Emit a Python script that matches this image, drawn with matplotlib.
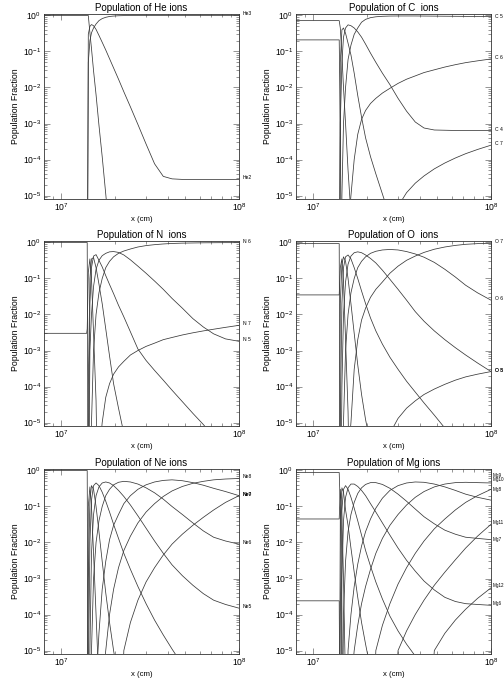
import math
import matplotlib
matplotlib.use("Agg")
import matplotlib.pyplot as plt
import matplotlib.ticker as mticker
import matplotlib.transforms as mtransforms

plt.rcParams['font.family'] = ['Liberation Sans', 'DejaVu Sans']
plt.rcParams['mathtext.default'] = 'regular'

Z = 1e-9  # "zero" (below the plotted range)

# common x grid (cm)
x_cm = [0.8e7, 1.39e7, 1.40e7, 1.42e7, 1.45e7, 1.48e7, 1.52e7, 1.57e7, 1.63e7, 1.70e7,
        1.78e7, 1.87e7, 1.97e7, 2.10e7, 2.25e7, 2.45e7, 2.70e7, 3.00e7, 3.35e7, 3.75e7,
        4.20e7, 4.80e7, 5.50e7, 6.30e7, 7.20e7, 8.40e7, 1.0e8]

# ---------------- He ----------------
he1 = [1, 1, 1, 1, 0.33, 0.12, 0.029, 6.3e-3, 9e-4, 1.2e-4, 1.1e-5, 8e-7, Z, Z, Z, Z, Z, Z, Z, Z, Z, Z, Z, Z, Z, Z, Z]
he2 = [Z, Z, Z, 0.3, 0.5, 0.56, 0.52, 0.41, 0.28, 0.18, 0.11, 0.063, 0.035, 0.017, 7.6e-3, 2.9e-3, 9.4e-4,
       2.7e-4, 7.6e-5, 3.4e-5, 2.9e-5, 2.8e-5, 2.8e-5, 2.8e-5, 2.8e-5, 2.8e-5, 2.8e-5]
he3 = [Z, Z, Z, 0.05, 0.2, 0.33, 0.45, 0.58, 0.72, 0.82, 0.89, 0.94, 0.965, 0.983, 0.992, 0.997, 1, 1, 1, 1, 1, 1, 1, 1, 1, 1, 1]

# ---------------- C ----------------
c1 = [0.21, 0.21, 0.21, 1e-3, Z, Z, Z, Z, Z, Z, Z, Z, Z, Z, Z, Z, Z, Z, Z, Z, Z, Z, Z, Z, Z, Z, Z]
c2 = [0.72, 0.72, 0.72, 0.45, 0.08, 0.01, 1e-3, 5e-5, 3e-6, Z, Z, Z, Z, Z, Z, Z, Z, Z, Z, Z, Z, Z, Z, Z, Z, Z, Z]
c3 = [Z, Z, Z, 0.05, 0.4, 0.45, 0.32, 0.17, 0.08, 0.025, 6e-3, 1.5e-3, 4e-4, 1.2e-4, 4e-5, 1.1e-5, 2.5e-6,
      Z, Z, Z, Z, Z, Z, Z, Z, Z, Z]
c4 = [Z, Z, Z, 1e-3, 0.05, 0.25, 0.45, 0.55, 0.52, 0.45, 0.35, 0.25, 0.16, 0.09, 0.05, 0.025, 0.012, 5e-3,
      2.2e-3, 1.1e-3, 7.5e-4, 6.6e-4, 6.5e-4, 6.4e-4, 6.4e-4, 6.4e-4, 6.4e-4]
c5 = [Z, Z, Z, Z, 1e-5, 1e-3, 0.01, 0.06, 0.15, 0.3, 0.45, 0.65, 0.78, 0.87, 0.92, 0.95, 0.965, 0.97, 0.97,
      0.97, 0.965, 0.96, 0.955, 0.95, 0.945, 0.94, 0.935]
c6 = [Z, Z, Z, Z, Z, Z, Z, 1e-6, 1e-5, 1e-4, 5e-4, 1.3e-3, 2.3e-3, 3.6e-3, 5e-3, 7e-3, 9.5e-3, 0.013, 0.017,
      0.021, 0.026, 0.031, 0.037, 0.043, 0.049, 0.055, 0.062]
c7 = [Z, Z, Z, Z, Z, Z, Z, Z, Z, Z, Z, Z, Z, Z, Z, Z, 1e-6, 5e-6, 1.2e-5, 2.2e-5, 3.5e-5, 5.5e-5, 8e-5,
      1.1e-4, 1.45e-4, 1.9e-4, 2.5e-4]

# ---------------- N ----------------
n1 = [1, 1, 1, Z, Z, Z, Z, Z, Z, Z, Z, Z, Z, Z, Z, Z, Z, Z, Z, Z, Z, Z, Z, Z, Z, Z, Z]
n2 = [3e-3, 3e-3, 4e-3, 0.15, 0.35, 0.1, 3e-3, 4e-5, Z, Z, Z, Z, Z, Z, Z, Z, Z, Z, Z, Z, Z, Z, Z, Z, Z, Z, Z]
n3 = [Z, Z, Z, 1e-4, 0.1, 0.35, 0.38, 0.2, 0.07, 0.02, 4e-3, 7e-4, 1.2e-4, 2.5e-5, 5e-6, Z, Z, Z, Z, Z, Z, Z,
      Z, Z, Z, Z, Z]
n4 = [Z, Z, Z, 1e-6, 0.02, 0.2, 0.42, 0.46, 0.32, 0.21, 0.12, 0.068, 0.038, 0.018, 8.6e-3, 3.3e-3, 1.1e-3,
      5.3e-4, 2.8e-4, 1.5e-4, 7.9e-5, 3.8e-5, 1.8e-5, 8.8e-6, 4e-6, 1.5e-6, Z]
n5 = [Z, Z, Z, Z, 1e-3, 0.01, 0.06, 0.18, 0.32, 0.43, 0.5, 0.55, 0.56, 0.53, 0.45, 0.33, 0.22, 0.14, 0.085,
      0.05, 0.028, 0.015, 7.7e-3, 4.5e-3, 2.9e-3, 2.1e-3, 1.8e-3]
n6 = [Z, Z, Z, Z, Z, 1e-5, 1e-3, 0.01, 0.04, 0.1, 0.2, 0.3, 0.4, 0.5, 0.58, 0.66, 0.75, 0.82, 0.87, 0.91,
      0.94, 0.96, 0.97, 0.98, 0.985, 0.99, 0.99]
n7 = [Z, Z, Z, Z, Z, Z, Z, Z, 1e-6, 1e-5, 5e-5, 1.2e-4, 2.2e-4, 3.5e-4, 5e-4, 7.5e-4, 1e-3, 1.3e-3, 1.6e-3,
      2e-3, 2.3e-3, 2.7e-3, 3.1e-3, 3.5e-3, 3.9e-3, 4.4e-3, 5e-3]

# ---------------- O ----------------
o1 = [0.93, 0.93, 0.93, Z, Z, Z, Z, Z, Z, Z, Z, Z, Z, Z, Z, Z, Z, Z, Z, Z, Z, Z, Z, Z, Z, Z, Z]
o2 = [0.035, 0.035, 0.035, 0.2, 0.35, 0.08, 2e-3, 2e-5, Z, Z, Z, Z, Z, Z, Z, Z, Z, Z, Z, Z, Z, Z, Z, Z, Z, Z, Z]
o3 = [Z, Z, Z, 0.02, 0.25, 0.4, 0.3, 0.1, 0.02, 3e-3, 4e-4, 6e-5, 1.2e-5, 2.5e-6, Z, Z, Z, Z, Z, Z, Z, Z, Z,
      Z, Z, Z, Z]
o4 = [Z, Z, Z, 1e-5, 0.02, 0.2, 0.4, 0.45, 0.35, 0.2, 0.1, 0.045, 0.02, 8e-3, 3.5e-3, 1.5e-3, 6.5e-4, 3e-4,
      1.4e-4, 7e-5, 3.5e-5, 1.6e-5, 7e-6, 3e-6, Z, Z, Z]
o5 = [Z, Z, Z, Z, 1e-4, 0.01, 0.08, 0.25, 0.42, 0.52, 0.55, 0.52, 0.45, 0.36, 0.27, 0.17, 0.095, 0.05, 0.025,
      0.012, 6.5e-3, 3.5e-3, 2e-3, 1.2e-3, 7.5e-4, 4.5e-4, 2.6e-4]
o6 = [Z, Z, Z, Z, Z, 1e-5, 1e-3, 0.01, 0.04, 0.1, 0.2, 0.3, 0.4, 0.5, 0.57, 0.62, 0.64, 0.62, 0.56, 0.48,
      0.39, 0.28, 0.18, 0.11, 0.065, 0.04, 0.025]
o7 = [Z, Z, Z, Z, Z, Z, Z, 1e-6, 1e-5, 3e-4, 2e-3, 7e-3, 0.015, 0.03, 0.05, 0.08, 0.14, 0.22, 0.32, 0.42,
      0.53, 0.65, 0.75, 0.83, 0.89, 0.93, 0.95]
o8 = [Z, Z, Z, Z, Z, Z, Z, Z, Z, Z, Z, Z, Z, Z, Z, Z, 5e-6, 1.3e-5, 2.5e-5, 4e-5, 6e-5, 8.5e-5, 1.15e-4,
      1.5e-4, 1.85e-4, 2.2e-4, 2.6e-4]

# ---------------- Ne ----------------
ne1 = [1, 1, 1, Z, Z, Z, Z, Z, Z, Z, Z, Z, Z, Z, Z, Z, Z, Z, Z, Z, Z, Z, Z, Z, Z, Z, Z]
ne2 = [Z, Z, Z, 0.1, 0.35, 0.1, 5e-3, 1e-4, 1e-6, Z, Z, Z, Z, Z, Z, Z, Z, Z, Z, Z, Z, Z, Z, Z, Z, Z, Z]
ne3 = [Z, Z, Z, 1e-3, 0.15, 0.38, 0.3, 0.1, 0.02, 3e-3, 4e-4, 6e-5, 1e-5, 1.5e-6, Z, Z, Z, Z, Z, Z, Z, Z, Z,
       Z, Z, Z, Z]
ne4 = [Z, Z, Z, 1e-6, 0.01, 0.15, 0.38, 0.45, 0.38, 0.25, 0.14, 0.07, 0.032, 0.013, 5e-3, 1.8e-3, 6e-4,
       2e-4, 7e-5, 2.7e-5, 1.1e-5, 4e-6, Z, Z, Z, Z, Z]
ne5 = [Z, Z, Z, Z, 1e-5, 5e-3, 0.06, 0.2, 0.35, 0.45, 0.48, 0.45, 0.38, 0.28, 0.19, 0.11, 0.055, 0.025,
       0.011, 5e-3, 2.4e-3, 1.2e-3, 6.5e-4, 3.8e-4, 2.5e-4, 1.9e-4, 1.5e-4]
ne6 = [Z, Z, Z, Z, Z, 1e-5, 1e-3, 0.01, 0.04, 0.1, 0.2, 0.3, 0.4, 0.47, 0.5, 0.48, 0.42, 0.33, 0.24, 0.16,
       0.1, 0.06, 0.035, 0.021, 0.014, 0.011, 9e-3]
ne7 = [Z, Z, Z, Z, Z, Z, Z, 1e-6, 3e-5, 5e-4, 3e-3, 0.012, 0.03, 0.06, 0.12, 0.2, 0.3, 0.4, 0.48, 0.53,
       0.55, 0.52, 0.46, 0.39, 0.32, 0.26, 0.2]
ne8 = [Z, Z, Z, Z, Z, Z, Z, Z, Z, 1e-6, 1e-5, 1e-4, 5e-4, 2e-3, 6e-3, 0.015, 0.035, 0.07, 0.12, 0.19,
       0.27, 0.36, 0.44, 0.5, 0.55, 0.58, 0.6]
ne9 = [Z, Z, Z, Z, Z, Z, Z, Z, Z, Z, Z, Z, Z, Z, 1e-5, 6e-5, 2.5e-4, 8e-4, 2e-3, 4.5e-3, 9e-3, 0.017,
       0.03, 0.05, 0.08, 0.13, 0.2]

# ---------------- Mg ----------------
mg1 = [2.4e-4, 2.4e-4, 2.4e-4, Z, Z, Z, Z, Z, Z, Z, Z, Z, Z, Z, Z, Z, Z, Z, Z, Z, Z, Z, Z, Z, Z, Z, Z]
mg2 = [0.88, 0.88, 0.88, 0.1, 1e-4, Z, Z, Z, Z, Z, Z, Z, Z, Z, Z, Z, Z, Z, Z, Z, Z, Z, Z, Z, Z, Z, Z]
mg3 = [0.045, 0.045, 0.045, 0.3, 0.05, 1e-3, 1e-6, Z, Z, Z, Z, Z, Z, Z, Z, Z, Z, Z, Z, Z, Z, Z, Z, Z, Z, Z, Z]
mg4 = [Z, Z, Z, 0.05, 0.33, 0.25, 0.08, 0.03, 7e-3, 1.5e-3, 3e-4, 6e-5, 1.5e-5, 3e-6, Z, Z, Z, Z, Z, Z, Z,
       Z, Z, Z, Z, Z, Z]
mg5 = [Z, Z, Z, 1e-4, 0.08, 0.3, 0.38, 0.3, 0.18, 0.09, 0.04, 0.016, 6e-3, 2.2e-3, 8e-4, 2.7e-4, 9e-5,
       3.5e-5, 1.5e-5, 7e-6, 3.5e-6, Z, Z, Z, Z, Z, Z]
mg6 = [Z, Z, Z, Z, 1e-3, 0.04, 0.18, 0.33, 0.42, 0.42, 0.36, 0.28, 0.2, 0.12, 0.07, 0.035, 0.016, 7e-3,
       3.2e-3, 1.6e-3, 8.5e-4, 4.8e-4, 3e-4, 2.3e-4, 2e-4, 1.9e-4, 1.8e-4]
mg7 = [Z, Z, Z, Z, Z, 1e-4, 3e-3, 0.02, 0.06, 0.13, 0.23, 0.33, 0.41, 0.46, 0.46, 0.41, 0.32, 0.22, 0.14,
       0.085, 0.052, 0.033, 0.022, 0.017, 0.014, 0.013, 0.012]
mg8 = [Z, Z, Z, Z, Z, Z, Z, 1e-5, 1e-4, 6e-4, 2.5e-3, 8e-3, 0.02, 0.045, 0.09, 0.17, 0.28, 0.38, 0.45, 0.48,
       0.47, 0.42, 0.35, 0.28, 0.22, 0.18, 0.15]
mg9 = [Z, Z, Z, Z, Z, Z, Z, Z, 1e-6, 1e-5, 5e-5, 2e-4, 6e-4, 1.8e-3, 5e-3, 0.013, 0.03, 0.06, 0.11, 0.18,
       0.26, 0.35, 0.42, 0.46, 0.47, 0.46, 0.45]
mg10 = [Z, Z, Z, Z, Z, Z, Z, Z, Z, Z, Z, Z, Z, Z, 1e-5, 5e-5, 2e-4, 7e-4, 2e-3, 5e-3, 0.011, 0.024, 0.045,
        0.08, 0.13, 0.2, 0.3]
mg11 = [Z, Z, Z, Z, Z, Z, Z, Z, Z, Z, Z, Z, Z, Z, Z, Z, Z, 1e-5, 3.5e-5, 1e-4, 2.5e-4, 6.5e-4, 1.5e-3,
        3.3e-3, 7e-3, 0.015, 0.032]
mg12 = [Z, Z, Z, Z, Z, Z, Z, Z, Z, Z, Z, Z, Z, Z, Z, Z, Z, Z, Z, Z, Z, 1e-5, 3e-5, 7e-5, 1.4e-4, 2.8e-4,
        5.5e-4]

# panel definitions: element, curves, end labels (text, y value)
panels = [
    ("He", [he1, he2, he3], [("He3", 1.0), ("He2", 2.8e-5)]),
    ("C", [c1, c2, c3, c4, c5, c6, c7], [("C 5", 0.85), ("C 6", 0.062), ("C 4", 6.2e-4), ("C 7", 2.6e-4)]),
    ("N", [n1, n2, n3, n4, n5, n6, n7], [("N 6", 0.99), ("N 7", 5e-3), ("N 5", 1.8e-3)]),
    ("O", [o1, o2, o3, o4, o5, o6, o7, o8], [("O 7", 0.95), ("O 6", 0.025), ("O 5", 2.6e-4), ("O 8", 2.6e-4)]),
    ("Ne", [ne1, ne2, ne3, ne4, ne5, ne6, ne7, ne8, ne9],
     [("Ne8", 0.6), ("Ne7", 0.2), ("Ne9", 0.2), ("Ne6", 9e-3), ("Ne5", 1.5e-4)]),
    ("Mg", [mg1, mg2, mg3, mg4, mg5, mg6, mg7, mg8, mg9, mg10, mg11, mg12],
     [("Mg9", 0.65), ("Mg10", 0.5), ("Mg8", 0.27), ("Mg11", 0.033), ("Mg7", 0.011), ("Mg12", 5.8e-4),
      ("Mg6", 1.8e-4)]),
]

W, H = 504, 680
fig = plt.figure(figsize=(W / 100, H / 100), dpi=100)

col_left = [44, 296]
row_top = [14, 241, 469]
ax_w, ax_h = 195, 185


def pow_fmt(v, p):
    return r'$10^{%d}$' % round(math.log10(v))


for i, (el, curves, labels) in enumerate(panels):
    r, c = divmod(i, 2)
    l = col_left[c] / W
    b = 1 - (row_top[r] + ax_h) / H
    ax = fig.add_axes([l, b, ax_w / W, ax_h / H])
    for y in curves:
        ax.plot(x_cm, y, color='#383838', lw=0.55, solid_joinstyle='round')
    ax.set_xscale('log')
    ax.set_yscale('log')
    ax.set_xlim(8e6, 1e8)
    ax.set_ylim(8e-6, 1.1)
    ax.xaxis.set_major_locator(mticker.LogLocator(base=10, numticks=5))
    ax.xaxis.set_minor_locator(mticker.LogLocator(base=10, subs=range(2, 10), numticks=20))
    ax.yaxis.set_major_locator(mticker.LogLocator(base=10, numticks=10))
    ax.yaxis.set_minor_locator(mticker.LogLocator(base=10, subs=range(2, 10), numticks=20))
    ax.xaxis.set_minor_formatter(mticker.NullFormatter())
    ax.yaxis.set_minor_formatter(mticker.NullFormatter())
    ax.xaxis.set_major_formatter(mticker.FuncFormatter(pow_fmt))
    ax.yaxis.set_major_formatter(mticker.FuncFormatter(pow_fmt))
    ax.tick_params(which='both', direction='in', top=True, right=True, labelsize=6.2, pad=2,
                   width=0.4, color='#444444')
    ax.tick_params(which='major', length=4.5)
    ax.tick_params(which='minor', length=2.2)
    for s in ax.spines.values():
        s.set_linewidth(0.6)
        s.set_color('#333333')
    ax.set_title(f"Population of {el:<2s} ions", fontsize=7.0, pad=2.5)
    ax.set_xlabel("x (cm)", fontsize=5.6, labelpad=1.5)
    ax.set_ylabel("Population Fraction", fontsize=6.3, labelpad=2)
    trans = mtransforms.blended_transform_factory(ax.transAxes, ax.transData)
    fs = 3.3 if el == "Mg" else 3.6
    dx = 1.01 if el == "Mg" else 1.02
    for txt, val in labels:
        ax.text(dx, val, txt, transform=trans, fontsize=fs, ha='left', va='baseline', clip_on=False)

fig.savefig("out.png", dpi=100)
